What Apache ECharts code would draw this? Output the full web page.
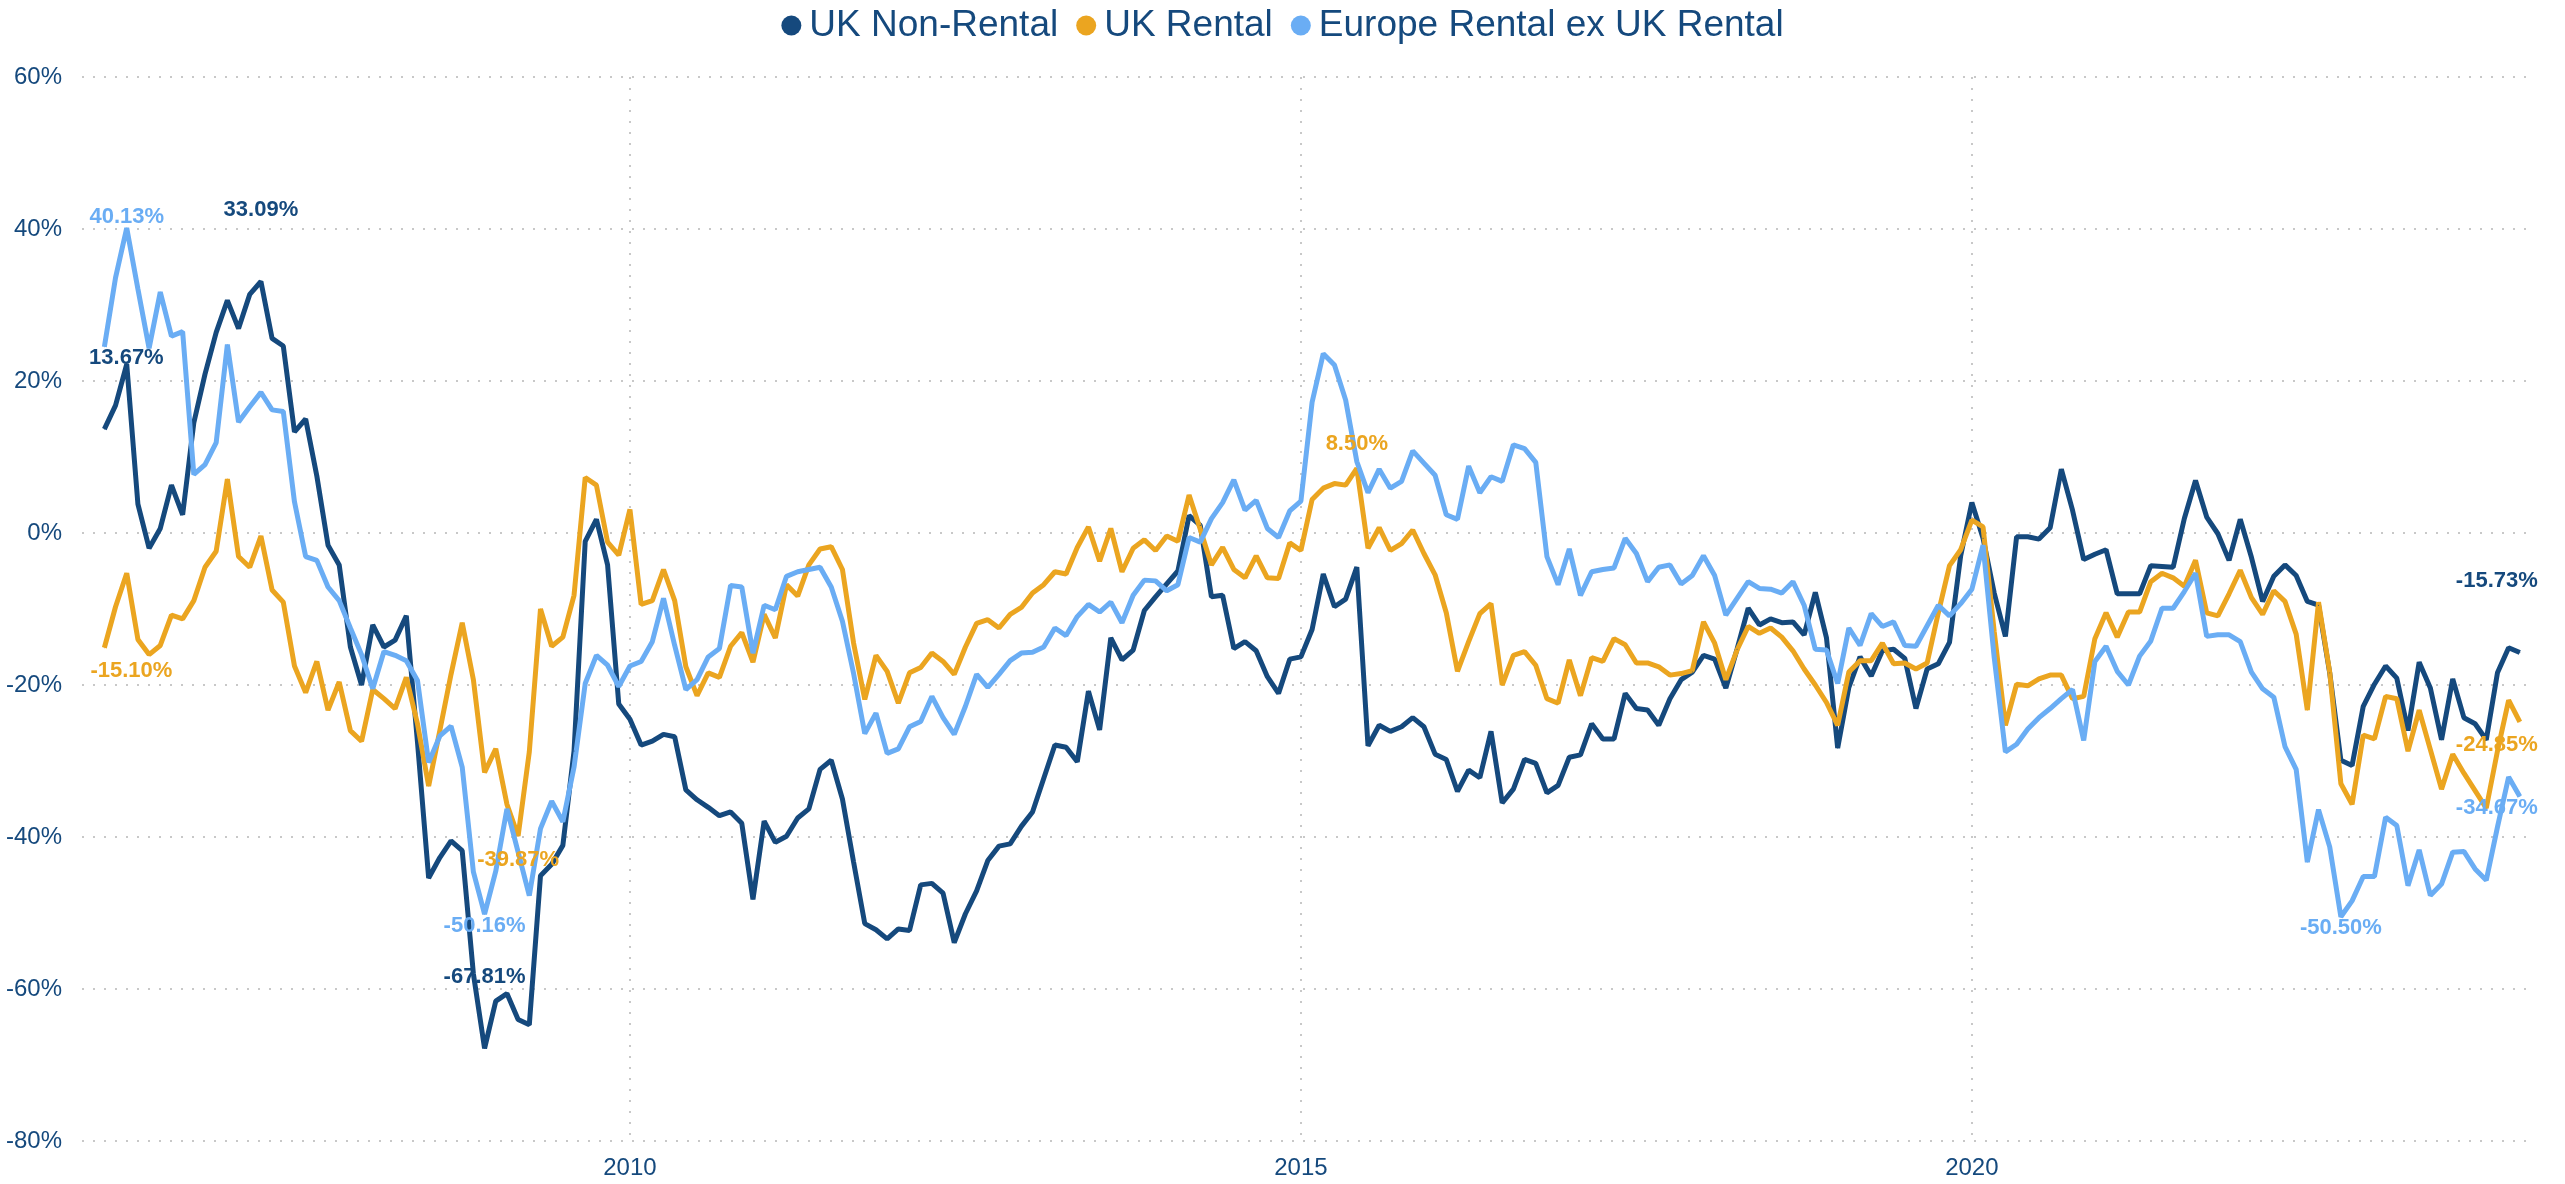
<!DOCTYPE html>
<html>
<head>
<meta charset="utf-8">
<title>UK Non-Rental vs UK Rental vs Europe Rental</title>
<script src="https://cdn.jsdelivr.net/npm/echarts@6/dist/echarts.min.js"></script>
<style>
  html, body { margin: 0; padding: 0; background: #fff; }
  #chart { width: 2565px; height: 1184px; }
</style>
</head>
<body>
<div id="chart"></div>
<script>
// monthly values, Feb 2006 .. Feb 2024 (%)
const padBefore = ['2005-12', '2006-01'];
const padAfter = ['2024-03'];
const yearTicks = ['2010-01', '2015-01', '2020-01'];

const ukNonRental = [
  13.67, 16.8, 22.2, 3.8, -2.0, 0.6, 6.3, 2.4, 14.5, 20.9,
  26.4, 30.6, 26.9, 31.4, 33.09, 25.6, 24.6, 13.3, 15.0, 7.5,
  -1.6, -4.2, -15.0, -20.0, -12.1, -15.0, -14.1, -10.9, -27.5, -45.4,
  -42.7, -40.5, -41.8, -58.0, -67.81, -61.6, -60.6, -64.0, -64.7, -45.1,
  -43.6, -41.1, -28.7, -1.1, 1.8, -4.2, -22.5, -24.5, -27.9, -27.4,
  -26.5, -26.8, -33.8, -35.1, -36.1, -37.2, -36.7, -38.2, -48.2, -37.9,
  -40.7, -39.9, -37.5, -36.3, -31.1, -29.9, -35.0, -43.3, -51.4, -52.2,
  -53.4, -52.1, -52.3, -46.3, -46.1, -47.4, -53.9, -50.1, -47.1, -43.1,
  -41.2, -40.9, -38.6, -36.7, -32.3, -27.9, -28.2, -30.1, -20.8, -25.9,
  -13.8, -16.7, -15.4, -10.2, -8.4, -6.7, -5.0, 2.3, 1.0, -8.4,
  -8.2, -15.2, -14.3, -15.5, -18.9, -21.1, -16.6, -16.3, -12.7, -5.4,
  -9.7, -8.7, -4.5, -28.0, -25.3, -26.1, -25.5, -24.3, -25.5, -29.1,
  -29.8, -34.0, -31.2, -32.2, -26.1, -35.5, -33.7, -29.8, -30.3, -34.2,
  -33.2, -29.5, -29.2, -25.1, -27.1, -27.1, -21.1, -23.1, -23.3, -25.3,
  -21.8, -19.3, -18.3, -16.1, -16.6, -20.4, -15.3, -9.9, -12.1, -11.3,
  -11.8, -11.7, -13.4, -7.8, -13.8, -28.3, -20.3, -16.3, -18.8, -15.5,
  -15.3, -16.5, -23.1, -17.9, -17.2, -14.4, -3.0, 4.0, -0.7, -7.9,
  -13.6, -0.5, -0.5, -0.8, 0.7, 8.4, 3.0, -3.5, -2.8, -2.2,
  -8.0, -8.0, -8.0, -4.3, -4.4, -4.5, 1.9, 6.9, 2.1, -0.1,
  -3.6, 1.8, -3.2, -9.0, -5.7, -4.2, -5.6, -9.0, -9.5, -18.4,
  -29.9, -30.6, -22.8, -19.9, -17.5, -19.1, -26.0, -17.0, -20.4, -27.2,
  -19.2, -24.3, -25.1, -27.2, -18.4, -15.1, -15.73
];

const ukRental = [
  -15.10, -9.7, -5.3, -14.0, -16.0, -14.8, -10.8, -11.3, -8.9, -4.5,
  -2.4, 7.1, -3.1, -4.5, -0.4, -7.5, -9.1, -17.5, -21.0, -16.9,
  -23.3, -19.6, -26.0, -27.4, -20.6, -21.8, -23.1, -19.0, -25.1, -33.3,
  -26.0, -18.6, -11.8, -19.3, -31.5, -28.4, -35.7, -39.87, -28.8, -10.0,
  -14.9, -13.7, -8.2, 7.3, 6.3, -1.2, -2.9, 3.1, -9.4, -8.9,
  -4.8, -8.9, -17.6, -21.4, -18.4, -19.0, -14.9, -13.1, -17.0, -10.7,
  -13.8, -6.8, -8.3, -4.2, -2.1, -1.8, -4.8, -14.5, -21.9, -16.1,
  -18.2, -22.4, -18.4, -17.7, -15.8, -16.9, -18.6, -15.0, -11.9, -11.4,
  -12.5, -10.7, -9.8, -7.9, -6.8, -5.1, -5.4, -1.9, 0.8, -3.7,
  0.6, -5.1, -2.0, -0.9, -2.3, -0.4, -1.1, 5.0, 0.5, -4.2,
  -1.9, -4.8, -5.9, -3.0, -5.9, -6.0, -1.3, -2.3, 4.4, 5.9,
  6.5, 6.3, 8.50, -2.0, 0.7, -2.3, -1.4, 0.4, -2.7, -5.5,
  -10.5, -18.2, -14.3, -10.6, -9.3, -20.0, -16.1, -15.6, -17.4, -21.8,
  -22.4, -16.7, -21.4, -16.4, -16.9, -13.9, -14.7, -17.1, -17.1, -17.6,
  -18.7, -18.5, -18.1, -11.7, -14.5, -19.3, -15.4, -12.3, -13.2, -12.5,
  -13.7, -15.5, -17.9, -20.0, -22.3, -25.3, -18.3, -16.8, -16.8, -14.5,
  -17.2, -17.1, -17.9, -17.1, -10.5, -4.3, -2.2, 1.7, 0.8, -13.0,
  -25.3, -19.9, -20.1, -19.2, -18.7, -18.7, -21.8, -21.5, -13.9, -10.5,
  -13.7, -10.4, -10.4, -6.4, -5.3, -5.9, -7.0, -3.6, -10.5, -10.9,
  -8.0, -4.9, -8.5, -10.7, -7.6, -9.0, -13.3, -23.3, -9.1, -18.3,
  -33.0, -35.7, -26.6, -27.1, -21.5, -21.8, -28.7, -23.3, -28.5, -33.7,
  -29.1, -31.6, -33.9, -36.2, -28.7, -22.0, -24.85
];

const europeRentalExUk = [
  24.5, 33.6, 40.13, 32.1, 24.3, 31.7, 25.9, 26.5, 7.7, 9.0,
  11.9, 24.8, 14.6, 16.6, 18.5, 16.2, 16.0, 4.1, -3.1, -3.6,
  -7.1, -8.9, -12.5, -16.0, -20.5, -15.6, -16.1, -16.8, -19.4, -30.2,
  -26.7, -25.4, -30.8, -44.6, -50.16, -44.5, -36.3, -42.0, -47.7, -38.9,
  -35.3, -38.0, -30.8, -19.8, -16.1, -17.4, -20.2, -17.5, -16.9, -14.3,
  -8.6, -14.8, -20.6, -19.3, -16.3, -15.2, -6.9, -7.1, -15.8, -9.5,
  -10.1, -5.7, -5.1, -4.8, -4.5, -7.1, -11.6, -18.5, -26.4, -23.7,
  -29.0, -28.4, -25.5, -24.8, -21.5, -24.3, -26.5, -22.8, -18.6, -20.3,
  -18.6, -16.8, -15.8, -15.7, -15.0, -12.5, -13.5, -11.0, -9.4, -10.4,
  -9.1, -11.8, -8.2, -6.2, -6.3, -7.6, -6.8, -0.6, -1.2, 1.9,
  4.0, 7.0, 3.0, 4.3, 0.6, -0.6, 2.9, 4.2, 17.2, 23.6,
  22.1, 17.5, 9.4, 5.3, 8.4, 5.9, 6.8, 10.8, 9.2, 7.6,
  2.4, 1.8, 8.8, 5.3, 7.4, 6.8, 11.6, 11.1, 9.3, -3.1,
  -6.8, -2.1, -8.2, -5.1, -4.8, -4.6, -0.7, -2.7, -6.4, -4.5,
  -4.2, -6.7, -5.6, -3.0, -5.6, -10.8, -8.6, -6.4, -7.3, -7.4,
  -7.9, -6.4, -9.5, -15.3, -15.4, -19.8, -12.5, -14.8, -10.6, -12.3,
  -11.7, -14.8, -14.9, -12.2, -9.5, -10.9, -9.3, -7.4, -1.6, -16.4,
  -28.8, -27.8, -25.8, -24.3, -23.1, -21.8, -20.6, -27.3, -16.9, -14.9,
  -18.2, -20.0, -16.2, -14.2, -9.9, -9.9, -7.7, -5.3, -13.6, -13.4,
  -13.4, -14.3, -18.3, -20.5, -21.6, -28.1, -31.1, -43.3, -36.4, -41.3,
  -50.50, -48.4, -45.2, -45.2, -37.4, -38.5, -46.4, -41.7, -47.7, -46.2,
  -42.0, -41.9, -44.2, -45.7, -38.7, -32.1, -34.67
];

// which points carry a value label (index into the series)
const nonRentalMarks = [0, 14, 34, 216];
const rentalMarks = [0, 37, 112, 216];
const europeMarks = [2, 34, 200, 216];

const NAVY = '#15497d';
const ORANGE = '#eba520';
const LIGHTBLUE = '#6aadf4';
const FONT = '"Liberation Sans", Arial, sans-serif';

// month labels for the data
const months = [];
let yy = 2006, mm = 2;
for (let i = 0; i < ukNonRental.length; i++) {
  months.push(yy + '-' + String(mm).padStart(2, '0'));
  mm++;
  if (mm > 12) { mm = 1; yy++; }
}
const categories = padBefore.concat(months, padAfter);

// label placement per series
function labelStyle(series, idx, last) {
  if (series === 'nonrental') {
    return { position: 'top', distance: 60, offset: [idx === 0 ? 22 : (idx === last ? -23 : 0), 0] };
  }
  if (series === 'rental') {
    if (idx === 112) return { position: 'top', distance: 13 };
    return { position: 'bottom', distance: 12, offset: [idx === 0 ? 27 : (idx === last ? -23 : 0), 0] };
  }
  if (idx === 2) return { position: 'top', distance: 0 };
  return { position: 'bottom', distance: 0, offset: [idx === last ? -23 : 0, 0] };
}

function buildData(values, marks, series) {
  const out = padBefore.map(() => '-');
  const last = values.length - 1;
  values.forEach((v, i) => {
    if (marks.indexOf(i) >= 0) {
      out.push({ value: v, label: Object.assign({ show: true }, labelStyle(series, i, last)) });
    } else {
      out.push(v);
    }
  });
  padAfter.forEach(() => out.push('-'));
  return out;
}

function lineSeries(name, values, marks, key, color) {
  return {
    name: name,
    type: 'line',
    data: buildData(values, marks, key),
    symbol: 'circle',
    symbolSize: 1,
    showSymbol: true,
    showAllSymbol: true,
    itemStyle: { color: color },
    lineStyle: { color: color, width: 5 },
    label: {
      show: false,
      color: color,
      fontSize: 22,
      fontWeight: 'bold',
      fontFamily: FONT,
      formatter: function (p) { return p.value.toFixed(2) + '%'; }
    },
    emphasis: { disabled: true }
  };
}

const gridLine = { color: '#c8c8c8', width: 2, type: [2, 9] };

const option = {
  backgroundColor: '#ffffff',
  animation: false,
  textStyle: { fontFamily: FONT },
  legend: {
    top: 2,
    left: 'center',
    icon: 'circle',
    itemWidth: 26,
    itemHeight: 20,
    itemGap: 18,
    textStyle: { fontSize: 37, color: NAVY, fontFamily: FONT },
    data: ['UK Non-Rental', 'UK Rental', 'Europe Rental ex UK Rental']
  },
  grid: { left: 82, right: 34, top: 77, bottom: 43, containLabel: false },
  xAxis: {
    type: 'category',
    data: categories,
    boundaryGap: false,
    axisLine: { show: false },
    axisTick: { show: false },
    axisLabel: {
      interval: function (i, v) { return yearTicks.indexOf(v) >= 0; },
      formatter: function (v) { return v.slice(0, 4); },
      color: NAVY,
      fontSize: 24,
      margin: 15,
      fontFamily: FONT
    },
    splitLine: {
      show: true,
      interval: function (i, v) { return yearTicks.indexOf(v) >= 0; },
      lineStyle: gridLine
    }
  },
  yAxis: {
    type: 'value',
    min: -80,
    max: 60,
    interval: 20,
    axisLine: { show: false },
    axisTick: { show: false },
    axisLabel: { formatter: '{value}%', color: NAVY, fontSize: 24, margin: 20, fontFamily: FONT },
    splitLine: { show: true, lineStyle: gridLine }
  },
  series: [
    lineSeries('UK Non-Rental', ukNonRental, nonRentalMarks, 'nonrental', NAVY),
    lineSeries('UK Rental', ukRental, rentalMarks, 'rental', ORANGE),
    lineSeries('Europe Rental ex UK Rental', europeRentalExUk, europeMarks, 'europe', LIGHTBLUE)
  ]
};

const chart = echarts.init(document.getElementById('chart'));
chart.setOption(option);
</script>
</body>
</html>
